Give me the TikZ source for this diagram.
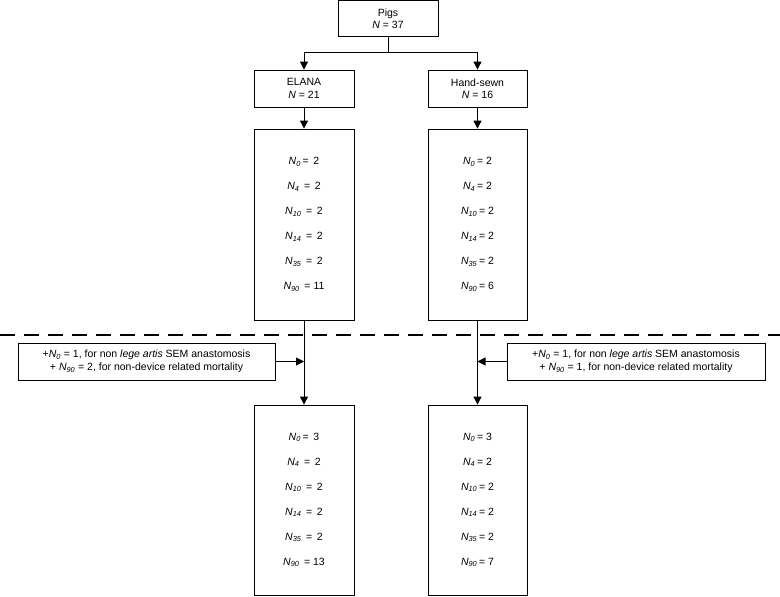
\documentclass[tikz,border=0pt]{standalone}
\usepackage{fontspec}
\setmainfont{Liberation Sans}
\usetikzlibrary{arrows.meta}
\newcommand{\Nsub}[1]{\textit{N\textsubscript{#1}}}
\begin{document}
\begin{tikzpicture}[x=1pt,y=-1pt,
  box/.style={draw,line width=0.8pt,inner sep=0pt,align=center,font=\fontsize{10.5}{12.5}\selectfont},
  tall/.style={box,minimum width=100pt,font=\fontsize{10.5}{25}\selectfont},
  ann/.style={box,minimum height=37pt,font=\fontsize{10.5}{13.5}\selectfont},
  conn/.style={line width=0.8pt},
  arr/.style={conn,-{Triangle[length=8pt,width=8pt]}}]
\useasboundingbox (0,0) rectangle (780,597);
\node[box,minimum width=100pt,minimum height=36pt] (pigs) at (388,18.5) {Pigs\\\textit{N} = 37};
\node[box,minimum width=100pt,minimum height=37pt] (elana) at (304,88.5) {ELANA\\\textit{N} = 21};
\node[box,minimum width=99pt,minimum height=37pt] (hand) at (477.5,88.5) {Hand-sewn\\\textit{N} = 16};
\coordinate (split) at (388,52);
\draw[conn] (pigs.south) -- (split);
\draw[arr] (split) -| (elana.north);
\draw[arr] (split) -| (hand.north);
\node[tall,minimum height=191pt] (e1) at (304,224.5) {\Nsub{0}\,= \,2\\\Nsub{4} \,= \,2\\\Nsub{10} \,= \,2\\\Nsub{14} \,= \,2\\\Nsub{35} \,= \,2\\\Nsub{90} \,= 11};
\node[tall,minimum width=99pt,minimum height=191pt] (h1) at (477.5,224.5) {\Nsub{0}\,= 2\\\Nsub{4}\,= 2\\\Nsub{10}\,= 2\\\Nsub{14}\,= 2\\\Nsub{35}\,= 2\\\Nsub{90}\,= 6};
\draw[arr] (elana.south) -- (e1.north);
\draw[arr] (hand.south) -- (h1.north);
\coordinate (dl) at (0,335);
\coordinate (dr) at (780,335);
\draw[line width=2.5pt,dash pattern=on 15pt off 9pt] (dl) -- (dr);
\node[tall,minimum height=190pt] (e2) at (304,500) {\Nsub{0}\,= \,3\\\Nsub{4} \,= \,2\\\Nsub{10} \,= \,2\\\Nsub{14} \,= \,2\\\Nsub{35} \,= \,2\\\Nsub{90} \,= 13};
\node[tall,minimum width=99pt,minimum height=190pt] (h2) at (477.5,500) {\Nsub{0}\,= 3\\\Nsub{4}\,= 2\\\Nsub{10}\,= 2\\\Nsub{14}\,= 2\\\Nsub{35}\,= 2\\\Nsub{90}\,= 7};
\draw[arr] (e1.south) -- (e2.north);
\draw[arr] (h1.south) -- (h2.north);
\node[ann,minimum width=257pt] (annl) at (146.5,361.5) {+\Nsub{0} = 1, for non \textit{lege artis} SEM anastomosis\\+ \Nsub{90} = 2, for non-device related mortality};
\node[ann,minimum width=258pt] (annr) at (636,361.5) {+\Nsub{0} = 1, for non \textit{lege artis} SEM anastomosis\\+ \Nsub{90} = 1, for non-device related mortality};
\draw[arr] (annl.east) -- (annl.east -| e1.center);
\draw[arr] (annr.west) -- (annr.west -| h1.center);
\end{tikzpicture}
\end{document}
